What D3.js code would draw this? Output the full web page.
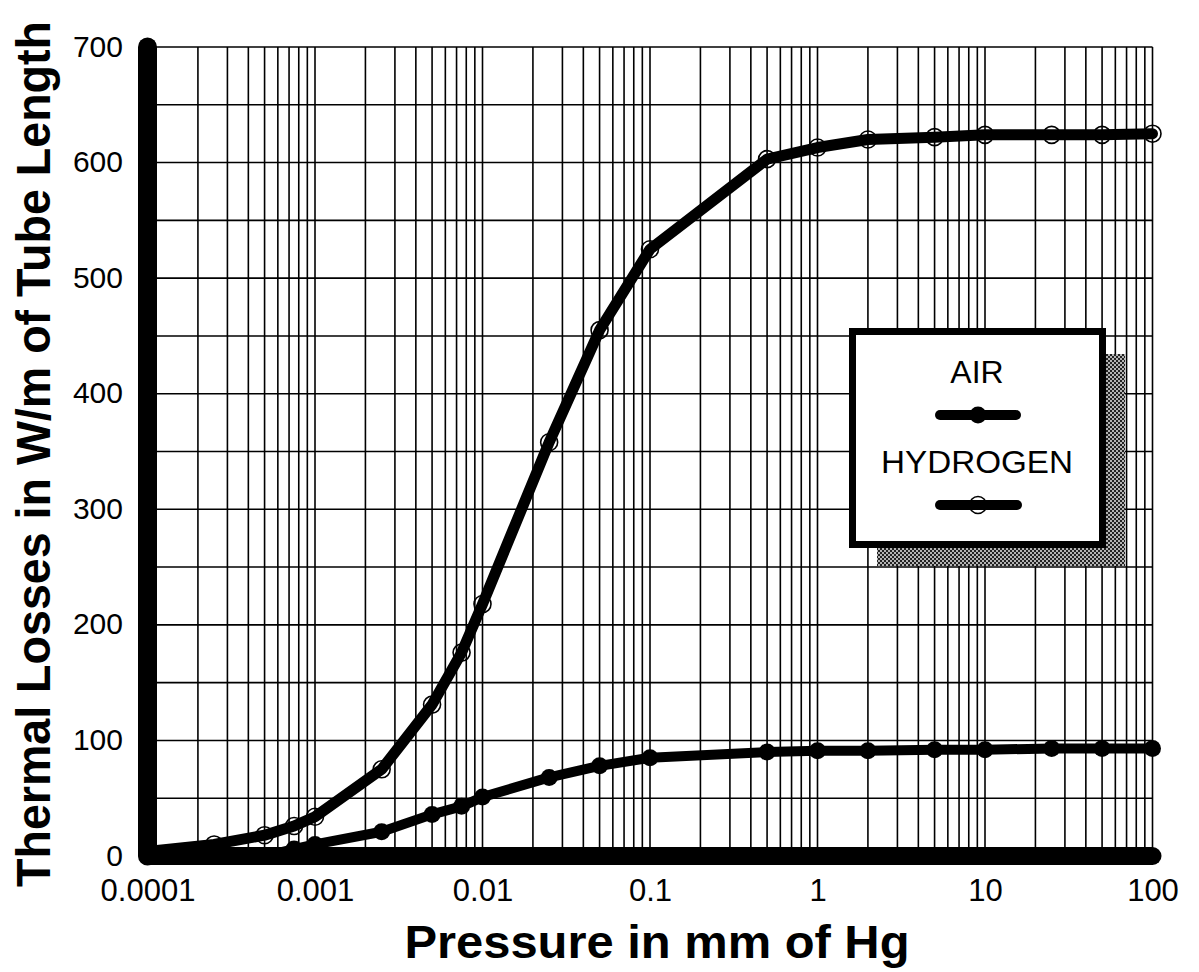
<!DOCTYPE html>
<html>
<head>
<meta charset="utf-8">
<script src="https://cdn.jsdelivr.net/npm/d3@7/dist/d3.min.js"></script>
<style>
  html, body { margin: 0; padding: 0; background: #fff; }
  svg { display: block; }
  text { font-family: "Liberation Sans", Arial, Helvetica, sans-serif; fill: #000; }
</style>
</head>
<body>
<svg id="chart" width="1199" height="972"></svg>
<script>
// ---- data ----
const airPressure = [0.0005, 0.00075, 0.001, 0.0025, 0.005, 0.0075, 0.01, 0.025, 0.05, 0.1, 0.5, 1, 2, 5, 10, 25, 50, 100];
const airLoss     = [0,      6,       10,    21,     36,    43,     51,   68,    78,   85,  90,  91, 91, 92, 92, 93, 93, 93];

const h2Pressure = [0.0001, 0.00025, 0.0005, 0.00075, 0.001, 0.0025, 0.005, 0.0075, 0.01, 0.025, 0.05, 0.1, 0.5, 1, 2, 5, 10, 25, 50, 100];
const h2Loss     = [4,      10,      18,     26,      34,    75,     131,   176,    218,  358,   455,  525, 603, 613, 620, 622, 624, 624, 624, 625];

const xTickValues = [0.0001, 0.001, 0.01, 0.1, 1, 10, 100];
const xTickLabels = ["0.0001", "0.001", "0.01", "0.1", "1", "10", "100"];
const yTickValues = [0, 100, 200, 300, 400, 500, 600, 700];

const xTitle = "Pressure in mm of Hg";
const yTitle = "Thermal Losses in W/m of Tube Length";
const legendNames = ["AIR", "HYDROGEN"];

// ---- layout ----
const svg = d3.select("#chart");
const x = d3.scaleLog().domain([0.0001, 100]).range([147.5, 1152.5]);
const y = d3.scaleLinear().domain([0, 700]).range([856, 47]);

// shadow pattern (halftone look)
const defs = svg.append("defs");
const pat = defs.append("pattern").attr("id", "dots").attr("patternUnits", "userSpaceOnUse")
  .attr("width", 4).attr("height", 4);
pat.append("rect").attr("width", 4).attr("height", 4).attr("fill", "#b4b4b4");
pat.append("rect").attr("x", 0).attr("y", 0).attr("width", 2).attr("height", 2).attr("fill", "#222");
pat.append("rect").attr("x", 2).attr("y", 2).attr("width", 2).attr("height", 2).attr("fill", "#222");

// ---- grid ----
const grid = svg.append("g").attr("stroke", "#000").attr("stroke-width", 1.6);
const minorX = [];
for (let e = -4; e < 2; e++) for (let m = 1; m <= 9; m++) minorX.push(m * Math.pow(10, e));
minorX.push(100);
grid.selectAll("line.vx").data(minorX).join("line")
  .attr("x1", d => x(d)).attr("x2", d => x(d))
  .attr("y1", y(0)).attr("y2", y(700));
grid.selectAll("line.hy").data(d3.range(50, 701, 50)).join("line")
  .attr("x1", x(0.0001)).attr("x2", x(100))
  .attr("y1", d => y(d)).attr("y2", d => y(d));

// ---- legend box with shadow (drawn over grid, below curves) ----
const lg = svg.append("g");
lg.append("rect").attr("x", 877).attr("y", 354).attr("width", 248).attr("height", 212).attr("fill", "url(#dots)");
lg.append("rect").attr("x", 852.5).attr("y", 331.5).attr("width", 250).attr("height", 213)
  .attr("fill", "#fff").attr("stroke", "#000").attr("stroke-width", 7);

// ---- axes (thick black lines) ----
svg.append("line").attr("x1", x(0.0001)).attr("x2", x(0.0001)).attr("y1", y(700)).attr("y2", y(0))
  .attr("stroke", "#000").attr("stroke-width", 19).attr("stroke-linecap", "round");
svg.append("line").attr("x1", x(0.0001)).attr("x2", x(100)).attr("y1", y(0)).attr("y2", y(0))
  .attr("stroke", "#000").attr("stroke-width", 18).attr("stroke-linecap", "round");

// ---- curves ----
const line = d3.line().x(d => x(d[0])).y(d => y(d[1])).curve(d3.curveLinear);
const airData = airPressure.map((p, i) => [p, airLoss[i]]);
const h2Data = h2Pressure.map((p, i) => [p, h2Loss[i]]);

svg.append("path").attr("d", line(airData)).attr("fill", "none").attr("stroke", "#000")
  .attr("stroke-width", 10).attr("stroke-linejoin", "round").attr("stroke-linecap", "round");
svg.append("path").attr("d", line(h2Data)).attr("fill", "none").attr("stroke", "#000")
  .attr("stroke-width", 11).attr("stroke-linejoin", "round").attr("stroke-linecap", "round");

svg.append("g").selectAll("circle").data(airData.slice(1)).join("circle")
  .attr("cx", d => x(d[0])).attr("cy", d => y(d[1])).attr("r", 8.5).attr("fill", "#000");
svg.append("g").selectAll("circle").data(h2Data.slice(1)).join("circle")
  .attr("cx", d => x(d[0])).attr("cy", d => y(d[1])).attr("r", 8.5)
  .attr("fill", "none").attr("stroke", "#000").attr("stroke-width", 1.6);

// ---- legend contents ----
lg.append("text").attr("x", 977).attr("y", 383).attr("text-anchor", "middle")
  .attr("font-size", 32).text(legendNames[0]);
lg.append("line").attr("x1", 940).attr("x2", 1016).attr("y1", 415).attr("y2", 415)
  .attr("stroke", "#000").attr("stroke-width", 10).attr("stroke-linecap", "round");
lg.append("circle").attr("cx", 978).attr("cy", 415).attr("r", 8.5).attr("fill", "#000");
lg.append("text").attr("x", 977).attr("y", 473).attr("text-anchor", "middle")
  .attr("font-size", 32).attr("textLength", 192).attr("lengthAdjust", "spacingAndGlyphs").text(legendNames[1]);
lg.append("line").attr("x1", 940).attr("x2", 1017).attr("y1", 505).attr("y2", 505)
  .attr("stroke", "#000").attr("stroke-width", 10).attr("stroke-linecap", "round");
lg.append("circle").attr("cx", 978).attr("cy", 505).attr("r", 8.5)
  .attr("fill", "none").attr("stroke", "#000").attr("stroke-width", 1.6);

// ---- tick labels ----
const xAxis = d3.axisBottom(x).tickValues(xTickValues)
  .tickFormat((d, i) => xTickLabels[i]).tickSize(0).tickPadding(0);
const gx = svg.append("g").attr("transform", `translate(0,${y(0) + 23})`).call(xAxis);
gx.select(".domain").remove();
gx.selectAll("text").attr("font-size", 31).attr("dy", "0.71em")
  .style("font-family", "'Liberation Sans', Arial, sans-serif").attr("fill", "#000");

const yAxis = d3.axisLeft(y).tickValues(yTickValues).tickFormat(d3.format("d")).tickSize(0).tickPadding(0);
const gy = svg.append("g").attr("transform", `translate(123,0)`).call(yAxis);
gy.select(".domain").remove();
gy.selectAll("text").attr("font-size", 30).attr("dy", "0.3em")
  .style("font-family", "'Liberation Sans', Arial, sans-serif").attr("fill", "#000");

// ---- axis titles ----
svg.append("text").attr("x", 657).attr("y", 958).attr("text-anchor", "middle")
  .attr("font-size", 46).attr("font-weight", "bold")
  .attr("textLength", 505).attr("lengthAdjust", "spacingAndGlyphs").text(xTitle);
svg.append("text").attr("transform", "translate(50,454) rotate(-90)").attr("text-anchor", "middle")
  .attr("font-size", 48).attr("font-weight", "bold")
  .attr("textLength", 866).attr("lengthAdjust", "spacingAndGlyphs").text(yTitle);
</script>
</body>
</html>
